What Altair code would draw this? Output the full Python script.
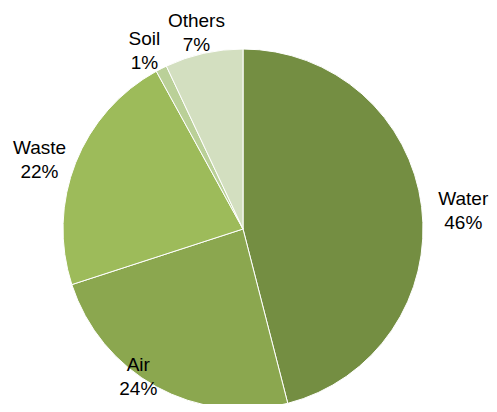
import altair as alt
import pandas as pd

categories = ["Water", "Air", "Waste", "Soil", "Others"]
shares = [46, 24, 22, 1, 7]
order = [0, 1, 2, 3, 4]
colors = ["#748e42", "#8ba74f", "#9dbb5a", "#bad098", "#d3dfc0"]

df = pd.DataFrame({"cat": categories, "share": shares, "idx": order})

base = alt.Chart(df)

pie = base.mark_arc(radius=180, stroke="white", strokeWidth=1, x=235, y=221).encode(
    theta=alt.Theta("share:Q", stack=True),
    order=alt.Order("idx:Q"),
    color=alt.Color("cat:N", scale=alt.Scale(domain=categories, range=colors), legend=None),
)

labels = base.transform_window(
    cum="sum(share)", sort=[alt.SortField("idx")], frame=[None, 0]
).transform_joinaggregate(
    total="sum(share)"
).transform_calculate(
    ang="(datum.cum - datum.share / 2) / datum.total * 2 * PI",
    sx="sin(datum.ang)",
    cy="cos(datum.ang)",
    lbl="datum.cat + '\\n' + datum.share + '%'",
).mark_text(
    font="Liberation Sans", fontSize=19, lineBreak="\n", lineHeight=24, dy=-12,
    align="center", baseline="middle", color="#000000",
).encode(
    x=alt.X("sx:Q", scale=alt.Scale(domain=[-1, 1], range=[16, 457]), axis=None),
    y=alt.Y("cy:Q", scale=alt.Scale(domain=[-1, 0, 1], range=[389, 229, 20]), axis=None),
    text="lbl:N",
)

chart = alt.layer(pie, labels).properties(
    width=481, height=396, padding=0, autosize=alt.AutoSizeParams(type="none")
).configure_view(stroke=None)

chart.save("out.html", embed_options={"renderer": "svg", "actions": False})
